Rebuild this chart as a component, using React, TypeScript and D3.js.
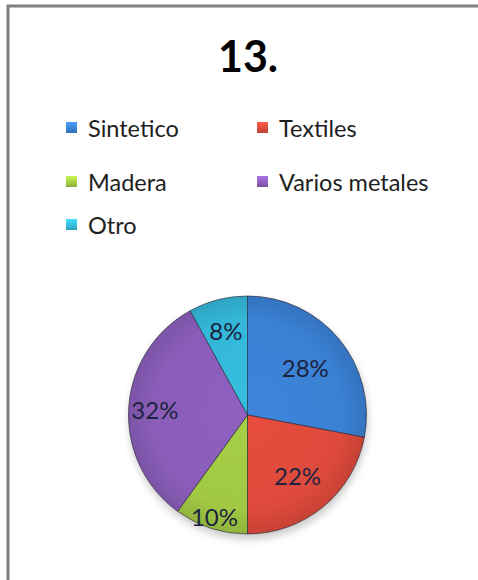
import React from "react";
import * as d3 from "d3";

const categories = ["Sintetico", "Textiles", "Madera", "Varios metales", "Otro"];
const shares = [28, 22, 10, 32, 8];
const title = "13.";

const palette = ["#3a80d3", "#dd4a3b", "#a0c843", "#8a5db9", "#34b7d8"];
// Radial placement of each percentage label, as a fraction of the radius
const labelRadiusFactor = [0.63, 0.66, 0.9, 0.78, 0.73];

const W = 478;
const H = 580;
const cx = 247.5;
const cy = 415;
const R = 119;

export default function App() {
  const pie = d3
    .pie<number>()
    .sort(null)
    .value((d) => d)(shares);
  const arc = d3.arc<d3.PieArcDatum<number>>().innerRadius(0).outerRadius(R);

  const legendRows = [
    { i: 0, x: 66, y: 128 },
    { i: 1, x: 257, y: 128 },
    { i: 2, x: 66, y: 182 },
    { i: 3, x: 257, y: 182 },
    { i: 4, x: 66, y: 225 },
  ];

  const font = "Lato, 'Open Sans', sans-serif";

  return (
    <svg
      width={W}
      height={H}
      style={{ position: "absolute", left: 0, top: 0 }}
    >
      <defs>
        {palette.map((c, i) => (
          <radialGradient
            key={i}
            id={`g${i}`}
            gradientUnits="userSpaceOnUse"
            cx={0}
            cy={0}
            r={R}
          >
            <stop offset="0%" stopColor={d3.color(c)!.brighter(0.12).formatHex()} />
            <stop offset="80%" stopColor={c} />
            <stop offset="100%" stopColor={d3.color(c)!.darker(0.3).formatHex()} />
          </radialGradient>
        ))}
        {palette.map((c, i) => (
          <linearGradient key={`l${i}`} id={`lg${i}`} x1="0" y1="0" x2="0" y2="1">
            <stop offset="0%" stopColor={d3.color(c)!.brighter(0.6).formatHex()} />
            <stop offset="100%" stopColor={d3.color(c)!.darker(0.4).formatHex()} />
          </linearGradient>
        ))}
        <filter id="shadow" x="-20%" y="-20%" width="140%" height="140%">
          <feGaussianBlur stdDeviation="4" />
        </filter>
      </defs>

      <rect x={0} y={0} width={W} height={H} fill="#ffffff" />
      {/* chart frame, open at the right and bottom */}
      <rect
        x={8}
        y={6}
        width={W + 10}
        height={H + 10}
        fill="#ffffff"
        stroke="#7f7f7f"
        strokeWidth={3}
      />

      <text
        x={248}
        y={72}
        textAnchor="middle"
        fontFamily={font}
        fontWeight={700}
        fontSize={43}
        fill="#000000"
      >
        {title}
      </text>

      {legendRows.map(({ i, x, y }) => (
        <g key={i}>
          <rect
            x={x}
            y={y - 6}
            width={11}
            height={11}
            fill={`url(#lg${i})`}
          />
          <text
            x={x + 22}
            y={y + 9}
            fontFamily={font}
            fontSize={23.5}
            fill="#1e1e1e"
          >
            {categories[i]}
          </text>
        </g>
      ))}

      <circle
        cx={cx + 1}
        cy={cy + 5}
        r={R}
        fill="#000000"
        opacity={0.22}
        filter="url(#shadow)"
      />
      <g transform={`translate(${cx},${cy})`}>
        {pie.map((d, i) => (
          <path
            key={i}
            d={arc(d) || ""}
            fill={`url(#g${i})`}
            stroke="#2a2a3a"
            strokeOpacity={0.65}
            strokeWidth={1}
          />
        ))}
        {pie.map((d, i) => {
          const mid = (d.startAngle + d.endAngle) / 2;
          const r = R * labelRadiusFactor[i];
          const lx = Math.sin(mid) * r;
          const ly = -Math.cos(mid) * r;
          return (
            <text
              key={`t${i}`}
              x={lx}
              y={ly}
              textAnchor="middle"
              dominantBaseline="central"
              fontFamily={font}
              fontSize={24}
              fill="#1c2340"
            >
              {`${d.data}%`}
            </text>
          );
        })}
      </g>
    </svg>
  );
}
